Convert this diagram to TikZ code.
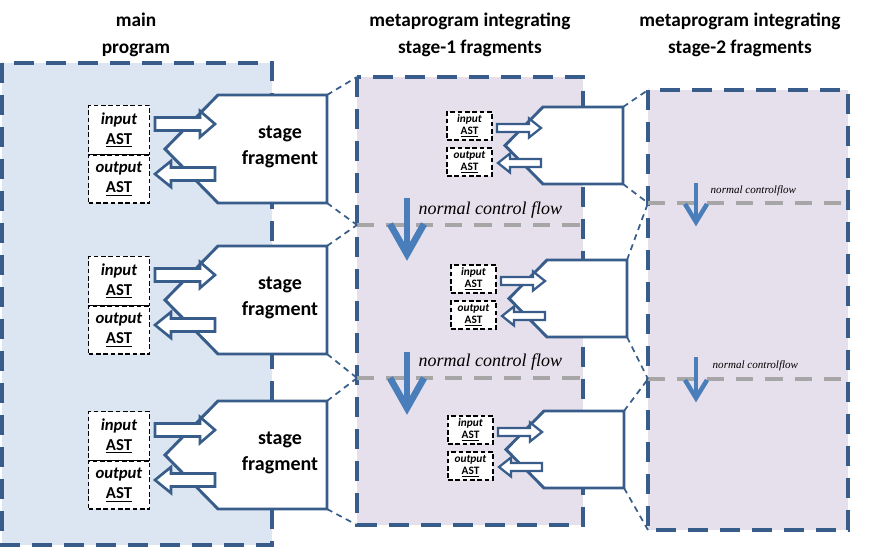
\documentclass[tikz,border=0pt]{standalone}
\usepackage{fontspec}
\setmainfont{Carlito}
\newfontfamily\flowfont{Liberation Serif}
\definecolor{dkblue}{RGB}{56,93,138}
\definecolor{pblue}{RGB}{220,230,242}
\definecolor{plav}{RGB}{229,224,236}
\definecolor{flowblue}{RGB}{74,126,187}
\definecolor{dgray}{RGB}{166,166,166}
\tikzset{
  panel/.style={draw=dkblue, line width=2.6pt, dash pattern=on 15pt off 9pt},
  frag/.style={draw=dkblue, line width=2.2pt, fill=white, line join=miter},
  blk/.style={draw=dkblue, line width=2pt, fill=white, line join=miter},
  sblk/.style={draw=dkblue, line width=1.7pt, fill=white, line join=miter},
  astbig/.style={draw=black, line width=0.9pt, dash pattern=on 3.5pt off 2pt, fill=white,
     minimum width=45.75pt, inner sep=0pt, align=center, font=\fontsize{12.5}{15}\selectfont\bfseries},
  astsmall/.style={draw=black, line width=0.9pt, dash pattern=on 3.5pt off 2pt, fill=white,
     minimum width=33.75pt, minimum height=21pt, inner sep=0pt, align=center, font=\fontsize{8.5}{9}\selectfont\bfseries},
  conn/.style={draw=dkblue, line width=1.3pt, dash pattern=on 4.5pt off 3.5pt},
  grayline/.style={draw=dgray, line width=2.3pt, dash pattern=on 13pt off 9pt},
  flowa/.style={draw=flowblue, line width=5pt, line join=miter},
  flowb/.style={draw=flowblue, line width=3.4pt, line join=miter},
  title/.style={align=center, font=\fontsize{14.5}{20}\selectfont\bfseries},
  fragtext/.style={align=center, font=\fontsize{15}{19}\selectfont\bfseries},
}
\newcommand{\rblk}[7]{% style, tail x, tip x, y, hh, hH, L
  \draw[#1] (#2,#4-#5) -- (#3-#7,#4-#5) -- (#3-#7,#4-#6) -- (#3,#4) -- (#3-#7,#4+#6) -- (#3-#7,#4+#5) -- (#2,#4+#5) -- cycle;}
\newcommand{\lblk}[7]{% style, tail x, tip x, y, hh, hH, L
  \draw[#1] (#2,#4-#5) -- (#3+#7,#4-#5) -- (#3+#7,#4-#6) -- (#3,#4) -- (#3+#7,#4+#6) -- (#3+#7,#4+#5) -- (#2,#4+#5) -- cycle;}
\newcommand{\bigfrag}[2]{% name, top y
  \coordinate (#1tr) at (327,#2);
  \coordinate (#1br) at (327,#2+108);
  \draw[frag] (218,#2) -- (#1tr) -- (#1br) -- (218,#2+108) -- (165,#2+54) -- cycle;
  \node[astbig, minimum height=36.75pt] (#1in) at (119,#2+35) {\textit{input}\\\underline{AST}};
  \node[astbig, minimum height=36pt] (#1out) at (119,#2+84) {\textit{output}\\\underline{AST}};
  \rblk{blk}{155}{215}{#2+29}{6.5}{13}{15}
  \lblk{blk}{215}{155}{#2+79}{6.5}{13}{16}
  \node[fragtext] (#1txt) at (280,#2+52) {stage\\fragment};
}
\newcommand{\smallfrag}[3]{% name, top y, dx
  \coordinate (#1tr) at (623+#3,#2);
  \coordinate (#1br) at (623+#3,#2+77);
  \draw[frag] (543+#3,#2) -- (#1tr) -- (#1br) -- (543+#3,#2+77) -- (505+#3,#2+38.5) -- cycle;
  \node[astsmall] (#1in) at (469.5+#3,#2+19) {\textit{input}\\\underline{AST}};
  \node[astsmall] (#1out) at (469.5+#3,#2+55) {\textit{output}\\\underline{AST}};
  \rblk{sblk}{497+#3}{541+#3}{#2+21}{4}{9.5}{12}
  \lblk{sblk}{541+#3}{498+#3}{#2+56}{4}{9.5}{12}
}
\begin{document}
\begin{tikzpicture}[x=0.75pt,y=-0.75pt]
\useasboundingbox (0,0) rectangle (872,549);
% titles
\node[title] (t1) at (136,35) {main\\program};
\node[title] (t2) at (470,35) {metaprogram integrating\\stage-1 fragments};
\node[title] (t3) at (740,35) {metaprogram integrating\\stage-2 fragments};
% panels
\draw[panel, fill=pblue] (2,63) rectangle (272,545);
\draw[panel, fill=plav] (357,77) rectangle (583,525);
\draw[panel, fill=plav] (648,90) rectangle (848,530);
\coordinate (p2tl) at (357,77);
\coordinate (p2bl) at (357,525);
\coordinate (p3tl) at (648,90);
\coordinate (p3bl) at (648,530);
% gray control flow lines
\coordinate (g1) at (357,225); \coordinate (g1e) at (583,225);
\coordinate (g2) at (357,378); \coordinate (g2e) at (583,378);
\coordinate (h1) at (648,203); \coordinate (h1e) at (848,203);
\coordinate (h2) at (648,379); \coordinate (h2e) at (848,379);
\draw[grayline] (g1) -- (g1e);
\draw[grayline] (g2) -- (g2e);
\draw[grayline] (h1) -- (h1e);
\draw[grayline] (h2) -- (h2e);
% flow arrows panel 2
\draw[flowa] (407,198) -- (407,250);
\draw[flowa] (390,224) -- (407,254) -- (424,224);
\node[font=\flowfont\itshape\fontsize{13.5}{15}\selectfont, anchor=west] (f1) at (414,210) {normal control flow};
\draw[flowa] (407,352) -- (407,404);
\draw[flowa] (390,378) -- (407,408) -- (424,378);
\node[font=\flowfont\itshape\fontsize{13.5}{15}\selectfont, anchor=west] (f2) at (414,362) {normal control flow};
% flow arrows panel 3
\draw[flowb] (696,183) -- (696,218);
\draw[flowb] (685,204) -- (696,222) -- (707,204);
\node[font=\flowfont\itshape\fontsize{8.3}{10}\selectfont, anchor=west] (f3) at (706,191) {normal controlflow};
\draw[flowb] (696,357) -- (696,394);
\draw[flowb] (685,380) -- (696,398) -- (707,380);
\node[font=\flowfont\itshape\fontsize{8.3}{10}\selectfont, anchor=west] (f4) at (708,366) {normal controlflow};
% fragments
\bigfrag{A}{95}
\bigfrag{B}{246}
\bigfrag{C}{401}
\smallfrag{a}{107}{0}
\smallfrag{b}{260}{4}
\smallfrag{c}{411}{1}
% connectors
\draw[conn] (Atr) -- (p2tl);
\draw[conn] (Abr) -- (g1);
\draw[conn] (Btr) -- (g1);
\draw[conn] (Bbr) -- (g2);
\draw[conn] (Ctr) -- (g2);
\draw[conn] (Cbr) -- (p2bl);
\draw[conn] (atr) -- (p3tl);
\draw[conn] (abr) -- (h1);
\draw[conn] (btr) -- (h1);
\draw[conn] (bbr) -- (h2);
\draw[conn] (ctr) -- (h2);
\draw[conn] (cbr) -- (p3bl);
\end{tikzpicture}
\end{document}
